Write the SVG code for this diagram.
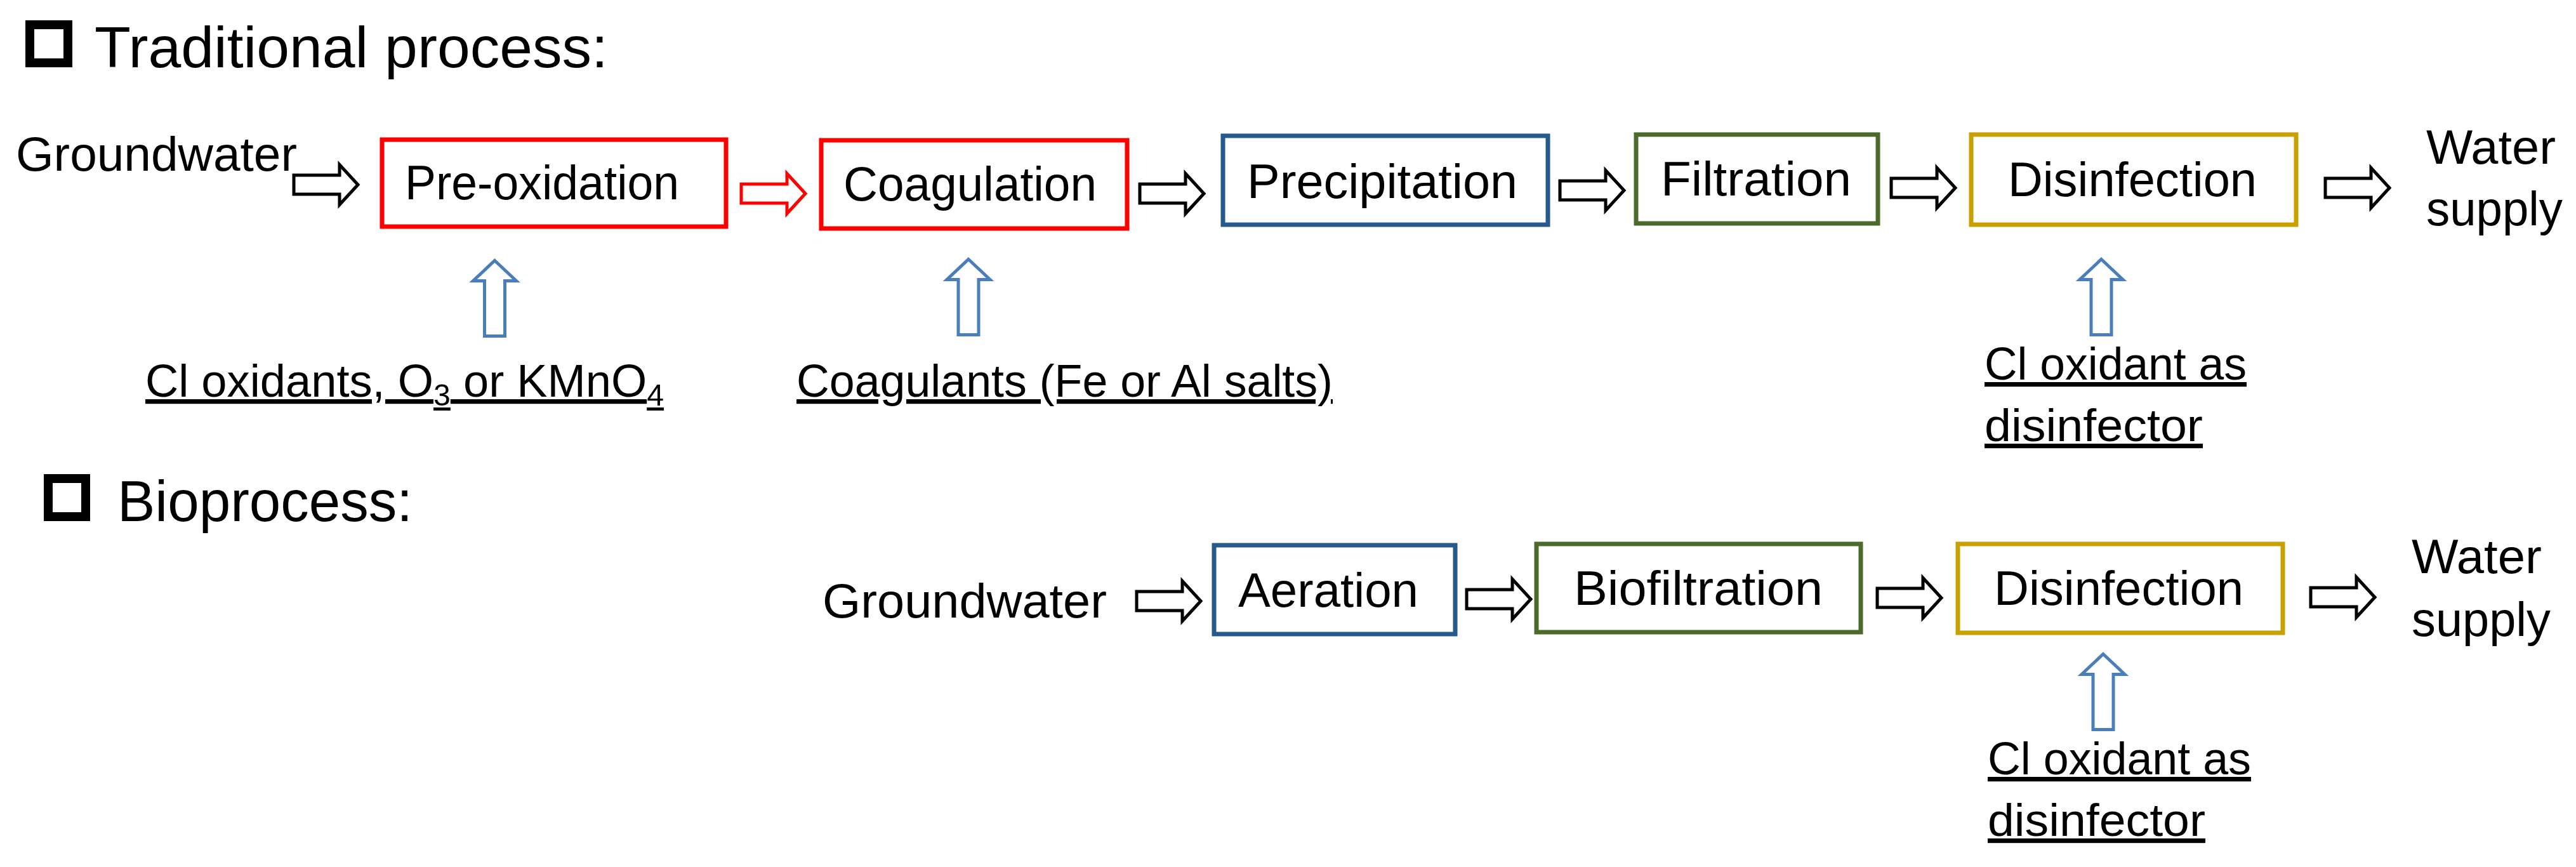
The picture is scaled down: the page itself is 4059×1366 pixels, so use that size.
<svg xmlns="http://www.w3.org/2000/svg" xmlns:xlink="http://www.w3.org/1999/xlink" width="4059" height="1366" viewBox="0 0 4059 1366">
<style>
text{font-family:"Liberation Sans",Arial,sans-serif;fill:#000}
.title{font-size:91px}
.t{font-size:76px}
.lbl{font-size:72px;text-decoration:underline}
.box{fill:#fff;stroke-width:7}
.red{stroke:#FF0000}
.blue{stroke:#275A8C}
.green{stroke:#4A6B2A}
.gold{stroke:#C9A000}
.chk{fill:none;stroke:#000;stroke-width:14}
.ar{fill:#fff;stroke:#000;stroke-width:5;stroke-linejoin:miter}
.ar.r{stroke:#FF0000}
.up{fill:#fff;stroke:#4A7EBB;stroke-width:5}
</style>
<defs>
<path id="ra" d="M3,-15 H75 V-31.5 L104,0 L75,31.5 V15 H3 Z"/>
<path id="ua" d="M0,3.5 L34,35.5 H16 V122.5 H-16 V35.5 H-34 Z"/>
</defs>
<rect width="4059" height="1366" fill="#fff"/>

<g id="title-traditional">
<rect class="chk" x="47" y="39" width="60" height="60"/>
<text class="title" x="149" y="106" textLength="809" lengthAdjust="spacingAndGlyphs">Traditional process:</text>
</g>
<g id="title-bio">
<rect class="chk" x="76" y="754" width="59" height="60"/>
<text class="title" x="185" y="821" textLength="465" lengthAdjust="spacingAndGlyphs">Bioprocess:</text>
</g>

<g id="groundwater1"><text class="t" x="25" y="269" textLength="443" lengthAdjust="spacingAndGlyphs">Groundwater</text></g>
<g id="preoxidation">
<rect class="box red" x="602" y="220" width="542" height="137"/>
<text class="t" x="638" y="314" textLength="432" lengthAdjust="spacingAndGlyphs">Pre-oxidation</text>
</g>
<g id="coagulation">
<rect class="box red" x="1294" y="221" width="482" height="139"/>
<text class="t" x="1329" y="316" textLength="399" lengthAdjust="spacingAndGlyphs">Coagulation</text>
</g>
<g id="precipitation">
<rect class="box blue" x="1927" y="214" width="512" height="140"/>
<text class="t" x="1965" y="312" textLength="426" lengthAdjust="spacingAndGlyphs">Precipitation</text>
</g>
<g id="filtration">
<rect class="box green" x="2578" y="212" width="381" height="140"/>
<text class="t" x="2617" y="308" textLength="300" lengthAdjust="spacingAndGlyphs">Filtration</text>
</g>
<g id="disinfection1">
<rect class="box gold" x="3106" y="212" width="512" height="142"/>
<text class="t" x="3164" y="309" textLength="392" lengthAdjust="spacingAndGlyphs">Disinfection</text>
</g>
<g id="watersupply1">
<text class="t" x="3823" y="258" textLength="204" lengthAdjust="spacingAndGlyphs">Water</text>
<text class="t" x="3823" y="355" textLength="215" lengthAdjust="spacingAndGlyphs">supply</text>
</g>
<g id="oxidants-label">
<text class="lbl" x="229" y="625" textLength="817" lengthAdjust="spacingAndGlyphs">Cl oxidants, O<tspan font-size="48" baseline-shift="-14">3</tspan> or KMnO<tspan font-size="48" baseline-shift="-14">4</tspan></text>
</g>
<g id="coagulants-label">
<text class="lbl" x="1255" y="625" textLength="845" lengthAdjust="spacingAndGlyphs">Coagulants (Fe or Al salts)</text>
</g>
<g id="disinfector-label1">
<text class="lbl" x="3127" y="598" textLength="413" lengthAdjust="spacingAndGlyphs">Cl oxidant as</text>
<text class="lbl" x="3127" y="695" textLength="344" lengthAdjust="spacingAndGlyphs">disinfector</text>
</g>

<g id="groundwater2"><text class="t" x="1296" y="973" textLength="448" lengthAdjust="spacingAndGlyphs">Groundwater</text></g>
<g id="aeration">
<rect class="box blue" x="1913" y="859" width="380" height="140"/>
<text class="t" x="1951" y="956" textLength="284" lengthAdjust="spacingAndGlyphs">Aeration</text>
</g>
<g id="biofiltration">
<rect class="box green" x="2421" y="857" width="511" height="139"/>
<text class="t" x="2480" y="953" textLength="392" lengthAdjust="spacingAndGlyphs">Biofiltration</text>
</g>
<g id="disinfection2">
<rect class="box gold" x="3085" y="857" width="512" height="140"/>
<text class="t" x="3142" y="953" textLength="393" lengthAdjust="spacingAndGlyphs">Disinfection</text>
</g>
<g id="watersupply2">
<text class="t" x="3800" y="903" textLength="205" lengthAdjust="spacingAndGlyphs">Water</text>
<text class="t" x="3800" y="1002" textLength="219" lengthAdjust="spacingAndGlyphs">supply</text>
</g>
<g id="disinfector-label2">
<text class="lbl" x="3132" y="1220" textLength="415" lengthAdjust="spacingAndGlyphs">Cl oxidant as</text>
<text class="lbl" x="3132" y="1317" textLength="343" lengthAdjust="spacingAndGlyphs">disinfector</text>
</g>

<g id="connectors">
<use href="#ra" class="ar" transform="translate(460,291)"/>
<use href="#ra" class="ar r" transform="translate(1165,305)"/>
<use href="#ra" class="ar" transform="translate(1793,305)"/>
<use href="#ra" class="ar" transform="translate(2455,300)"/>
<use href="#ra" class="ar" transform="translate(2977,296)"/>
<use href="#ra" class="ar" transform="translate(3661,296)"/>
<use href="#ra" class="ar" transform="translate(1788,947)"/>
<use href="#ra" class="ar" transform="translate(2308,944)"/>
<use href="#ra" class="ar" transform="translate(2955,942)"/>
<use href="#ra" class="ar" transform="translate(3638,941)"/>
<use href="#ua" class="up" transform="translate(779.5,407)"/>
<use href="#ua" class="up" transform="translate(1526,405)"/>
<use href="#ua" class="up" transform="translate(3311,405)"/>
<use href="#ua" class="up" transform="translate(3314,1027)"/>
</g>
</svg>
